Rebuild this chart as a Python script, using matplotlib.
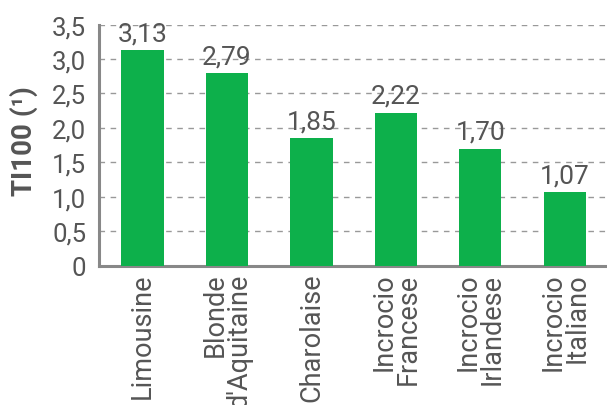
import matplotlib
matplotlib.use("Agg")
import matplotlib.pyplot as plt

plt.rcParams['font.family'] = ["Roboto", "DejaVu Sans"]

categories = ["Limousine", "Blonde\nd'Aquitaine", "Charolaise", "Incrocio\nFrancese",
              "Incrocio\nIrlandese", "Incrocio\nItaliano"]
values = [3.13, 2.79, 1.85, 2.22, 1.70, 1.07]
yticks = [0, 0.5, 1.0, 1.5, 2.0, 2.5, 3.0, 3.5]
ytick_labels = ["0", "0,5", "1,0", "1,5", "2,0", "2,5", "3,0", "3,5"]

green = "#0db04b"
txt = "#555555"

fig = plt.figure(figsize=(6.07, 4.06), dpi=100)
ax = fig.add_axes([0.1626, 0.343, 0.8374, 0.594])
x = list(range(len(categories)))
bars = ax.bar(x, values, width=0.5, color=green, zorder=3)
for xi, v in zip(x, values):
    ax.text(xi, v + 0.07, f"{v:.2f}".replace(".", ","), ha="center", va="bottom",
            fontsize=19, color=txt)
ax.set_xlim(-0.52, 5.5)
ax.set_ylim(0, 3.5)
ax.set_yticks(yticks)
ax.set_yticklabels(ytick_labels, fontsize=18.5, color=txt)
ax.yaxis.grid(True, linestyle=(0, (4, 4)), color="#999999", linewidth=1, zorder=0)
ax.set_xticks(x)
ax.set_xticklabels(categories, rotation=90, ha="center", va="top", fontsize=19.5,
                   color=txt, multialignment="right", linespacing=0.85)
ax.tick_params(axis="y", length=0, pad=9)
ax.tick_params(axis="x", length=0, pad=5)
for s in ["top", "right"]:
    ax.spines[s].set_visible(False)
for s in ["left", "bottom"]:
    ax.spines[s].set_color("#888888")
    ax.spines[s].set_linewidth(2.2)
ax.set_ylabel("TI100 (¹)", fontsize=20, fontweight="bold", color=txt,
              va="center", ha="center")
ax.yaxis.set_label_coords(-0.148, 0.52)
fig.savefig("out.png", dpi=100)
